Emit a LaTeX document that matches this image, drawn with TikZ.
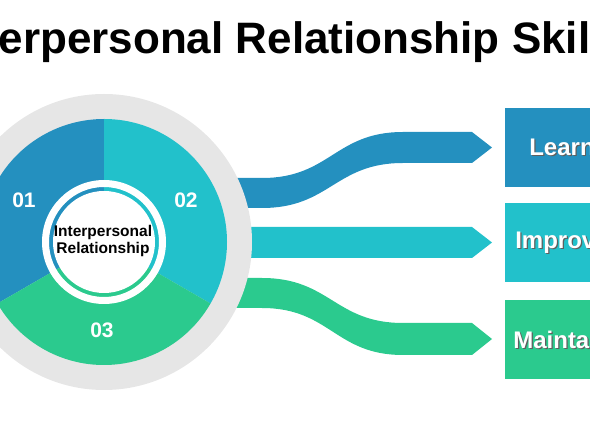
\documentclass[tikz,border=0pt]{standalone}
\usepackage{fontspec}
\setmainfont{Liberation Sans}
\definecolor{myblue}{RGB}{36,144,191}
\definecolor{mycyan}{RGB}{34,193,203}
\definecolor{mygreen}{RGB}{43,202,142}
\definecolor{mygrey}{RGB}{230,230,230}
\definecolor{myshadow}{RGB}{95,95,95}
\usetikzlibrary{positioning,calc}
\tikzset{
    skill/.style={
           rectangle,
           minimum width=114pt,
           minimum height=79pt,
           inner sep=0pt,
           },
    skilltext/.style={text=white, font=\bfseries\fontsize{24}{28}\selectfont},
    skillshadow/.style={text=myshadow, font=\bfseries\fontsize{24}{28}\selectfont},
    number/.style={text=white, font=\bfseries\fontsize{21}{24}\selectfont},
}

\begin{document}
\begin{tikzpicture}[x=1pt, y=-1pt]
  \useasboundingbox (0,0) rectangle (590,430);
  \clip (0,0) rectangle (590,430);
  \coordinate (c) at (104,242);
  % ribbons
  \fill[myblue]  (200,178) -- (262,178) .. controls (330,178) and (335,132) .. (403,132) -- (472,132)
                 -- (492,147.5) -- (472,163) -- (403,163) .. controls (335,163) and (330,208) .. (262,208)
                 -- (200,208) -- cycle;
  \fill[mycyan]  (200,227) -- (472,227) -- (492,242.5) -- (472,258) -- (200,258) -- cycle;
  \fill[mygreen] (200,278) -- (262,278) .. controls (330,278) and (335,323) .. (403,323) -- (472,323)
                 -- (492,339) -- (472,355) -- (403,355) .. controls (335,355) and (330,308) .. (262,308)
                 -- (200,308) -- cycle;
  % wheel
  \fill[mygrey] (c) circle (148);
  \fill[myblue]  (c) -- ++(150:123) arc[start angle=150, end angle=270, radius=123] -- cycle;
  \fill[mycyan]  (c) -- ++(-90:123) arc[start angle=-90, end angle=30, radius=123] -- cycle;
  \fill[mygreen] (c) -- ++(30:123)  arc[start angle=30, end angle=150, radius=123] -- cycle;
  \fill[white, even odd rule] (c) circle (62) (c) circle (55);
  \fill[white] (c) circle (51);
  \node[align=center, font=\bfseries\fontsize{15.5}{17}\selectfont] (core) at (103,241) {Interpersonal\\Relationship};
  \node[number] (n1) at (24,200)  {01};
  \node[number] (n2) at (186,200) {02};
  \node[number] (n3) at (102,330) {03};
  % skill boxes
  \node[skill, fill=myblue]  (learn)    at (562,147.5) {};
  \node[skill, fill=mycyan]  (improve)  at (562,242.5) {};
  \node[skill, fill=mygreen] (maintain) at (562,339.5) {};
  \node[skillshadow] at ($(learn)+(1.2,1.2)$)    {Learn};
  \node[skilltext]   at (learn)                  {Learn};
  \node[skillshadow] at ($(improve)+(1.2,1.2)$)  {Improve};
  \node[skilltext]   at (improve)                {Improve};
  \node[skillshadow] at ($(maintain)+(1.2,1.2)$) {Maintain};
  \node[skilltext]   at (maintain)               {Maintain};
  % title
  \node[anchor=base, font=\bfseries\fontsize{44}{50}\selectfont] (title) at (286,54) {Interpersonal Relationship Skills};
\end{tikzpicture}
\end{document}
